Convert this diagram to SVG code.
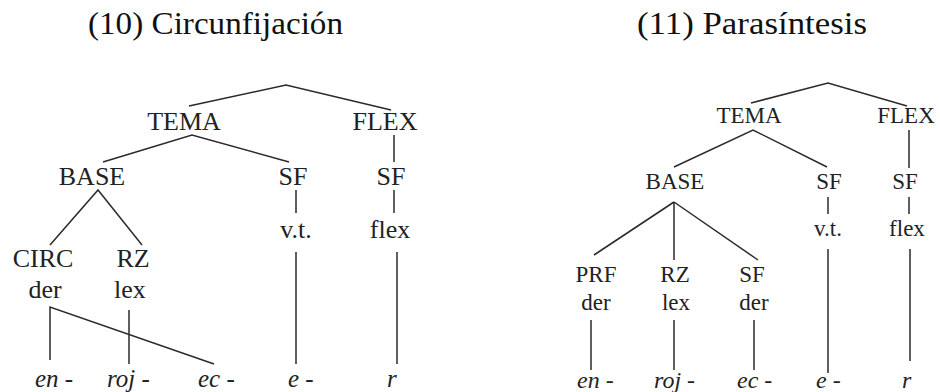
<svg xmlns="http://www.w3.org/2000/svg" width="940" height="392" viewBox="0 0 940 392">
<style>
text{font-family:'Liberation Serif','DejaVu Serif',serif;}
.title{font-size:32px;fill:#111;}
.l{font-size:26px;fill:#222;text-anchor:middle;}
.r{font-size:23px;fill:#222;text-anchor:middle;}
.li{font-size:25px;font-style:italic;fill:#222;}
.ri{font-size:24px;font-style:italic;fill:#222;}
.c{stroke:#2a2a2a;stroke-width:1.5;fill:none;}
</style>
<rect width="940" height="392" fill="#fff"/>
<text class="title" x="88" y="34" textLength="255" lengthAdjust="spacingAndGlyphs">(10) Circunfijación</text>
<text class="title" x="637" y="34" textLength="230" lengthAdjust="spacingAndGlyphs">(11) Parasíntesis</text>

<g id="connectors" class="c">
<polyline points="189,106 286,85 391,110"/>
<polyline points="103,162 192,135 289,162"/>
<line x1="394" y1="135" x2="394" y2="162"/>
<polyline points="50,245 98,190 142,245"/>
<line x1="296" y1="190" x2="296" y2="213"/>
<line x1="394" y1="190" x2="394" y2="213"/>
<polyline points="50,360 50,307 214,364"/>
<line x1="129" y1="310" x2="129" y2="364"/>
<line x1="296" y1="252" x2="296" y2="364"/>
<line x1="397" y1="252" x2="397" y2="364"/>

<polyline points="751,103 828,83 907,106"/>
<polyline points="674,167 753,130 827,167"/>
<line x1="909" y1="130" x2="909" y2="168"/>
<line x1="674" y1="202" x2="594" y2="255"/>
<line x1="674" y1="202" x2="674" y2="260"/>
<line x1="674" y1="202" x2="758" y2="260"/>
<line x1="828" y1="197" x2="828" y2="214"/>
<line x1="909" y1="197" x2="909" y2="214"/>
<line x1="591" y1="320" x2="591" y2="370"/>
<line x1="674" y1="320" x2="674" y2="370"/>
<line x1="754" y1="320" x2="754" y2="370"/>
<line x1="828" y1="249" x2="828" y2="373"/>
<line x1="910" y1="249" x2="910" y2="361"/>
</g>

<g id="l-tema"><text class="l" x="184" y="130">TEMA</text></g>
<g id="l-flex"><text class="l" x="385" y="130">FLEX</text></g>
<g id="l-base"><text class="l" x="92" y="185">BASE</text></g>
<g id="l-sf1"><text class="l" x="293" y="185">SF</text></g>
<g id="l-sf2"><text class="l" x="391" y="185">SF</text></g>
<g id="l-vt"><text class="l" x="296" y="238">v.t.</text></g>
<g id="l-flexl"><text class="l" x="390" y="238">flex</text></g>
<g id="l-circ"><text class="l" x="43" y="267">CIRC</text><text class="l" x="45" y="298">der</text></g>
<g id="l-rz"><text class="l" x="133" y="267">RZ</text><text class="l" x="130" y="298">lex</text></g>
<g id="l-en"><text class="li" x="35" y="387">en -</text></g>
<g id="l-roj"><text class="li" x="107" y="387">roj -</text></g>
<g id="l-ec"><text class="li" x="198" y="387">ec -</text></g>
<g id="l-e"><text class="li" x="288" y="387">e -</text></g>
<g id="l-r"><text class="li" x="387" y="387">r</text></g>

<g id="r-tema"><text class="r" x="749" y="123">TEMA</text></g>
<g id="r-flex"><text class="r" x="906" y="123">FLEX</text></g>
<g id="r-base"><text class="r" x="675" y="189">BASE</text></g>
<g id="r-sf1"><text class="r" x="829" y="189">SF</text></g>
<g id="r-sf2"><text class="r" x="905" y="189">SF</text></g>
<g id="r-vt"><text class="r" x="828" y="236">v.t.</text></g>
<g id="r-flexl"><text class="r" x="907" y="236">flex</text></g>
<g id="r-prf"><text class="r" x="596" y="282">PRF</text><text class="r" x="596" y="310">der</text></g>
<g id="r-rz"><text class="r" x="675" y="282">RZ</text><text class="r" x="676" y="310">lex</text></g>
<g id="r-sf3"><text class="r" x="752" y="282">SF</text><text class="r" x="754" y="310">der</text></g>
<g id="r-en"><text class="ri" x="577" y="388">en -</text></g>
<g id="r-roj"><text class="ri" x="654" y="388">roj -</text></g>
<g id="r-ec"><text class="ri" x="737" y="388">ec -</text></g>
<g id="r-e"><text class="ri" x="816" y="388">e -</text></g>
<g id="r-r"><text class="ri" x="902" y="388">r</text></g>
</svg>
